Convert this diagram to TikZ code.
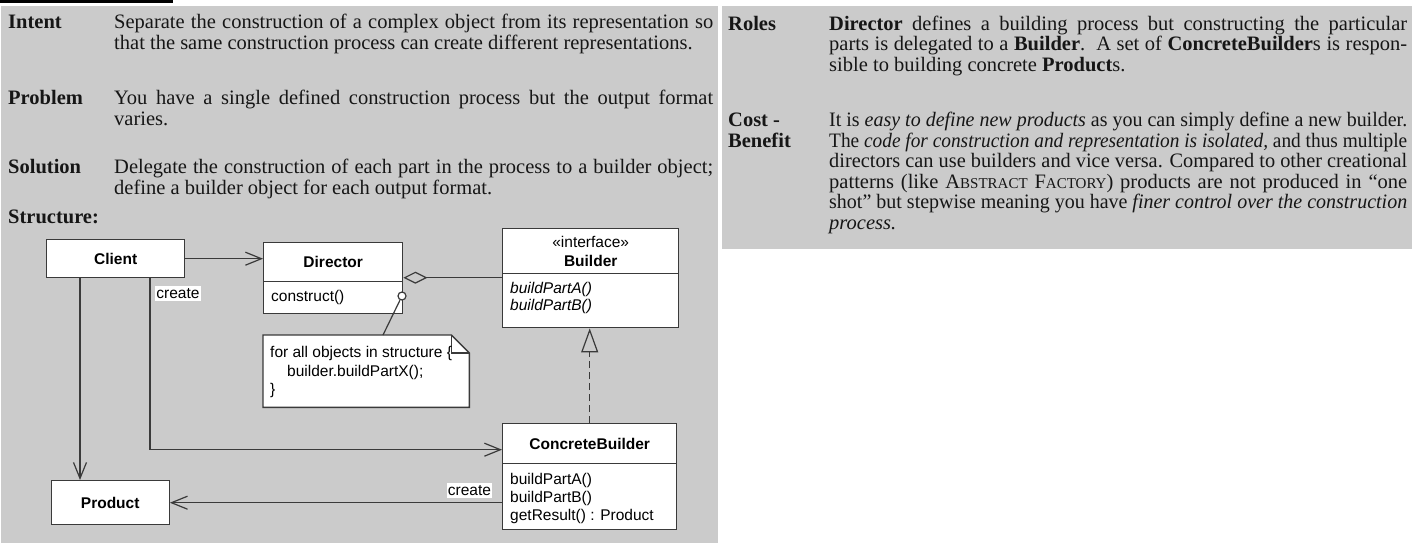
\documentclass[tikz,border=0pt]{standalone}
\usepackage{fontspec}
\setmainfont{Liberation Serif}
\setsansfont{Liberation Sans}
\usepackage{graphicx}
\usetikzlibrary{arrows.meta}
\definecolor{panelgray}{RGB}{203,203,203}
\definecolor{linegray}{RGB}{58,58,58}
\definecolor{txt}{RGB}{22,22,22}
\newcommand\jline[2]{\sbox0{#2}\ifdim\wd0>#1\relax\resizebox{#1}{\height}{#2}\else\makebox[#1][s]{#2}\fi}
\newcommand\myfsc[1]{{\fontsize{15}{15}\selectfont #1}}
\tikzset{
  body/.style={font=\fontsize{20.5}{21}\selectfont, anchor=base west, inner sep=0pt, text=txt},
  lbl/.style={body, font=\fontsize{20.5}{21}\selectfont\bfseries},
  uml/.style={draw=linegray, line width=1.4pt, fill=white, anchor=north west, inner sep=0pt,
              font=\sffamily\bfseries\fontsize{15.5}{19}\selectfont},
  umltxt/.style={font=\sffamily\fontsize{15.5}{17}\selectfont, inner sep=0pt, anchor=base west},
  umlit/.style={umltxt, font=\sffamily\itshape\fontsize{15.5}{17}\selectfont},
  conn/.style={draw=linegray, line width=1.2pt},
  openarr/.style={conn, -{Straight Barb[length=16pt,width=13pt]}},
  createlbl/.style={fill=white, inner xsep=1pt, inner ysep=2.5pt, font=\sffamily\fontsize{15.5}{17}\selectfont}
}
\begin{document}
\begin{tikzpicture}[x=1pt, y=-1pt]
\useasboundingbox (0,0) rectangle (1418,551);
% panels
\fill[black] (0,0) rectangle (173,3);
\fill[panelgray] (1,6) rectangle (718,543);
\fill[panelgray] (722,6) rectangle (1412,249);

% ---------- left panel text ----------
\node[lbl] (lIntent) at (8,29) {Intent};
\node[body] (tIntent1) at (114,29) {\jline{599pt}{Separate the construction of a complex object from its representation so}};
\node[body] (tIntent2) at (114,50) {that the same construction process can create different representations.};
\node[lbl] (lProblem) at (8,104) {Problem};
\node[body] (tProblem1) at (114,104) {\jline{599pt}{You have a single defined construction process but the output format}};
\node[body] (tProblem2) at (114,125) {varies.};
\node[lbl] (lSolution) at (8,173) {Solution};
\node[body] (tSolution1) at (114,173) {\jline{599pt}{Delegate the construction of each part in the process to a builder object;}};
\node[body] (tSolution2) at (114,194) {define a builder object for each output format.};
\node[lbl] (lStructure) at (8,223) {Structure:};

% ---------- right panel text ----------
\node[lbl] (lRoles) at (728,31) {Roles};
\node[body] (tRoles1) at (829,31) {\jline{578pt}{\textbf{Director} defines a building process but constructing the particular}};
\node[body] (tRoles2) at (829,51) {\jline{578pt}{parts is delegated to a \textbf{Builder}.\ \ A set of \textbf{ConcreteBuilder}s is respon-}};
\node[body] (tRoles3) at (829,71) {sible to building concrete \textbf{Product}s.};
\node[lbl] (lCost) at (728,126) {Cost -};
\node[lbl] (lBenefit) at (728,147) {Benefit};
\node[body] (tCost1) at (829,126) {\jline{578pt}{It is \emph{easy to define new products} as you can simply define a new builder.}};
\node[body] (tCost2) at (829,147) {\jline{578pt}{The \emph{code for construction and representation is isolated,} and thus multiple}};
\node[body] (tCost3) at (829,167.5) {\jline{578pt}{directors can use builders and vice versa. Compared to other creational}};
\node[body] (tCost4) at (829,188) {\jline{578pt}{patterns (like A\myfsc{BSTRACT} F\myfsc{ACTORY}) products are not produced in “one}};
\node[body] (tCost5) at (829,208.5) {\jline{578pt}{shot” but stepwise meaning you have \emph{finer control over the construction}}};
\node[body] (tCost6) at (829,229) {\emph{process.}};

% ---------- UML diagram ----------
\node[uml, minimum width=138pt, minimum height=38pt] (client) at (46,239) {Client};
\node[uml, minimum width=139pt, minimum height=39pt] (dirH) at (263,242) {Director};
\node[uml, minimum width=139pt, minimum height=32pt] (dirB) at (263,281) {};
\node[umltxt] (dirM) at (271,301) {construct()};

\node[uml, minimum width=176pt, minimum height=45pt, align=center] (bldH) at (502,228)
  {{\mdseries «interface»}\\Builder};
\node[uml, minimum width=176pt, minimum height=54pt] (bldB) at (502,273) {};
\node[umlit] (bldM1) at (510,293) {buildPartA()};
\node[umlit] (bldM2) at (510,310) {buildPartB()};

\node[uml, minimum width=174pt, minimum height=40pt] (cbH) at (502,423) {ConcreteBuilder};
\node[uml, minimum width=174pt, minimum height=66pt] (cbB) at (502,463) {};
\node[umltxt] (cbM1) at (510,484) {buildPartA()};
\node[umltxt] (cbM2) at (510,502) {buildPartB()};
\node[umltxt] (cbM3) at (510,520) {getResult() : Product};

\node[uml, minimum width=118pt, minimum height=44pt] (product) at (50.5,480) {Product};

% note
\node[anchor=north west, inner sep=0pt, minimum width=206pt, minimum height=72pt] (note) at (263,335) {};
\filldraw[draw=linegray, fill=white, line width=1.4pt]
  (note.north west) -- ([xshift=-18pt]note.north east) -- ([yshift=-18pt]note.north east)
  -- (note.south east) -- (note.south west) -- cycle;
\draw[draw=linegray, line width=1.2pt] ([xshift=-18pt]note.north east) |- ([yshift=-18pt]note.north east);
\node[umltxt] (noteL1) at (270,357) {for all objects in structure \{};
\node[umltxt] (noteL2) at (287,376) {builder.buildPartX();};
\node[umltxt] (noteL3) at (270,394) {\}};

% note anchor
\node[circle, draw=linegray, fill=white, line width=1.2pt, minimum size=8pt, inner sep=0pt] (anc) at (402,296) {};
\draw[conn] ([xshift=120pt]note.north west) -- (anc);

% connectors
\draw[openarr] (client.east) -- (client.east -| dirH.west);
\draw[openarr] ([xshift=34pt]client.south west) -- ([xshift=34pt]client.south west |- product.north);
\draw[openarr] ([xshift=104pt]client.south west) |- ([yshift=-6pt]cbH.west);
\draw[openarr] (cbB.west |- product.east) -- (product.east);

\coordinate (aggS) at ([yshift=-15.5pt]dirH.east);
\draw[conn, {Diamond[open,length=24pt,width=12pt]}-] (aggS) -- (aggS -| bldB.west);

\draw[conn, dash pattern=on 7pt off 4pt, -{Triangle[open,length=24pt,width=17pt]}]
  (cbH.north) -- (cbH.north |- bldB.south);

% labels
\node[createlbl] (create1) at (178,293.5) {create};
\node[createlbl] (create2) at (469.5,490.5) {create};
\end{tikzpicture}
\end{document}
